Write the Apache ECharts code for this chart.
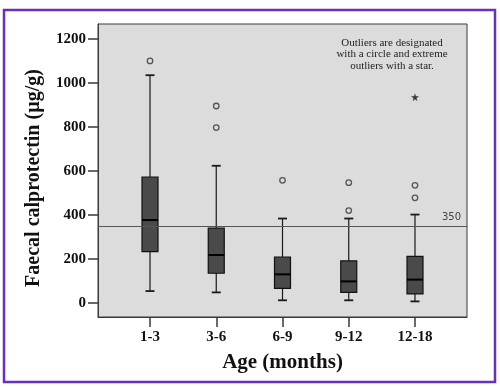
<!DOCTYPE html>
<html><head><meta charset="utf-8">
<script src="https://cdn.jsdelivr.net/npm/echarts@6/dist/echarts.min.js"></script>
<style>html,body{margin:0;padding:0;background:#fff}#c{width:500px;height:387px}</style>
</head><body><div id="c"></div>
<script>
const categories = ['1-3', '3-6', '6-9', '9-12', '12-18'];
const whiskerLow = [53, 47, 11, 11, 6];
const q1 = [232, 134, 65, 47, 40];
const median = [376, 217, 129, 97, 105];
const q3 = [572, 339, 208, 190, 211];
const whiskerHigh = [1035, 623, 383, 383, 401];
const outliers = [[1, 1100], [2, 895], [2, 797], [3, 557], [4, 546], [4, 419], [5, 534], [5, 477]];
const extremeOutliers = [[5, 935]];
const yTicks = [0, 200, 400, 600, 800, 1000, 1200];
const xTicks = [1, 2, 3, 4, 5];
const refValue = 350;

const serif = '"Liberation Serif", "Times New Roman", serif';
const boxData = categories.map((c, i) => [i + 1, whiskerLow[i], q1[i], median[i], q3[i], whiskerHigh[i]]);
const starPath = 'path://M50,0 L61,35 L98,35 L68,57 L79,91 L50,70 L21,91 L32,57 L2,35 L39,35 Z';

const chart = echarts.init(document.getElementById('c'), null, {renderer: 'canvas'});
chart.setOption({
  animation: false,
  backgroundColor: '#ffffff',
  grid: {left: 98, right: 33, top: 24, bottom: 70, show: true, backgroundColor: '#dcdcdc', borderColor: '#3a3a3a', borderWidth: 1},
  xAxis: {
    type: 'value', min: 0.215, max: 5.785,
    name: 'Age (months)', nameLocation: 'middle', nameGap: 35,
    nameTextStyle: {fontFamily: serif, fontWeight: 'bold', fontSize: 21, color: '#111'},
    axisLine: {show: true, onZero: false, lineStyle: {color: '#3a3a3a'}},
    axisTick: {show: true, length: 10, customValues: xTicks, lineStyle: {color: '#3a3a3a', width: 1.5}},
    axisLabel: {customValues: xTicks, margin: 13, fontFamily: serif, fontWeight: 'bold', fontSize: 15, color: '#111',
      formatter: v => categories[Math.round(v) - 1] || ''},
    splitLine: {show: false}
  },
  yAxis: {
    type: 'value', min: -65, max: 1268,
    axisLine: {show: true, onZero: false, lineStyle: {color: '#3a3a3a'}},
    axisTick: {show: true, length: 10, customValues: yTicks, lineStyle: {color: '#3a3a3a', width: 1.5}},
    axisLabel: {customValues: yTicks, margin: 12, fontFamily: serif, fontWeight: 'bold', fontSize: 15, color: '#111',
      formatter: v => String(v)},
    splitLine: {show: false}
  },
  graphic: [
    {type: 'rect', shape: {x: 4, y: 10, width: 491, height: 372}, style: {fill: 'none', stroke: '#6a2ec0', lineWidth: 2.5}, silent: true},
    {type: 'text', x: 34, y: 178, rotation: Math.PI / 2, style: {text: 'Faecal calprotectin (µg/g)', textAlign: 'center', textVerticalAlign: 'middle', fontFamily: serif, fontWeight: 'bold', fontSize: 20, fill: '#111'}},
    {type: 'text', x: 392, y: 37, style: {text: 'Outliers are designated\nwith a circle and extreme\noutliers with a star.', textAlign: 'center', fontFamily: serif, fontSize: 11, lineHeight: 11.5, fill: '#222'}}
  ],
  series: [
    {
      type: 'custom',
      data: boxData,
      encode: {x: 0, y: [1, 2, 3, 4, 5]},
      z: 3,
      renderItem: function (params, api) {
        const x = api.value(0);
        const pLow = api.coord([x, api.value(1)]);
        const pQ1 = api.coord([x, api.value(2)]);
        const pMed = api.coord([x, api.value(3)]);
        const pQ3 = api.coord([x, api.value(4)]);
        const pHigh = api.coord([x, api.value(5)]);
        const bw = 16, cw = 9, cx = pLow[0];
        const ls = {stroke: '#1a1a1a', lineWidth: 1.2};
        return {type: 'group', children: [
          {type: 'line', shape: {x1: cx, y1: pHigh[1], x2: cx, y2: pQ3[1]}, style: ls},
          {type: 'line', shape: {x1: cx, y1: pQ1[1], x2: cx, y2: pLow[1]}, style: ls},
          {type: 'line', shape: {x1: cx - cw / 2, y1: pHigh[1], x2: cx + cw / 2, y2: pHigh[1]}, style: {stroke: '#1a1a1a', lineWidth: 1.8}},
          {type: 'line', shape: {x1: cx - cw / 2, y1: pLow[1], x2: cx + cw / 2, y2: pLow[1]}, style: {stroke: '#1a1a1a', lineWidth: 1.8}},
          {type: 'rect', shape: {x: cx - bw / 2, y: pQ3[1], width: bw, height: pQ1[1] - pQ3[1]}, style: {fill: '#4a4a4a', stroke: '#111', lineWidth: 1.2}},
          {type: 'line', shape: {x1: cx - bw / 2, y1: pMed[1], x2: cx + bw / 2, y2: pMed[1]}, style: {stroke: '#000', lineWidth: 2}}
        ]};
      },
      markLine: {
        silent: true, symbol: ['none', 'none'],
        lineStyle: {color: '#555', width: 1.2, type: 'solid'},
        label: {show: true, position: 'insideEndTop', formatter: String(refValue), fontFamily: '"DejaVu Sans", sans-serif', fontSize: 10, color: '#444', distance: [6, 3]},
        data: [{yAxis: refValue}]
      }
    },
    {
      type: 'scatter', data: outliers, symbol: 'circle', symbolSize: 5.5, z: 4,
      itemStyle: {color: '#dcdcdc', borderColor: '#333', borderWidth: 1.3}
    },
    {
      type: 'scatter', data: extremeOutliers, symbol: starPath, symbolSize: 8, z: 4,
      itemStyle: {color: '#111'}
    }
  ]
});
</script></body></html>
